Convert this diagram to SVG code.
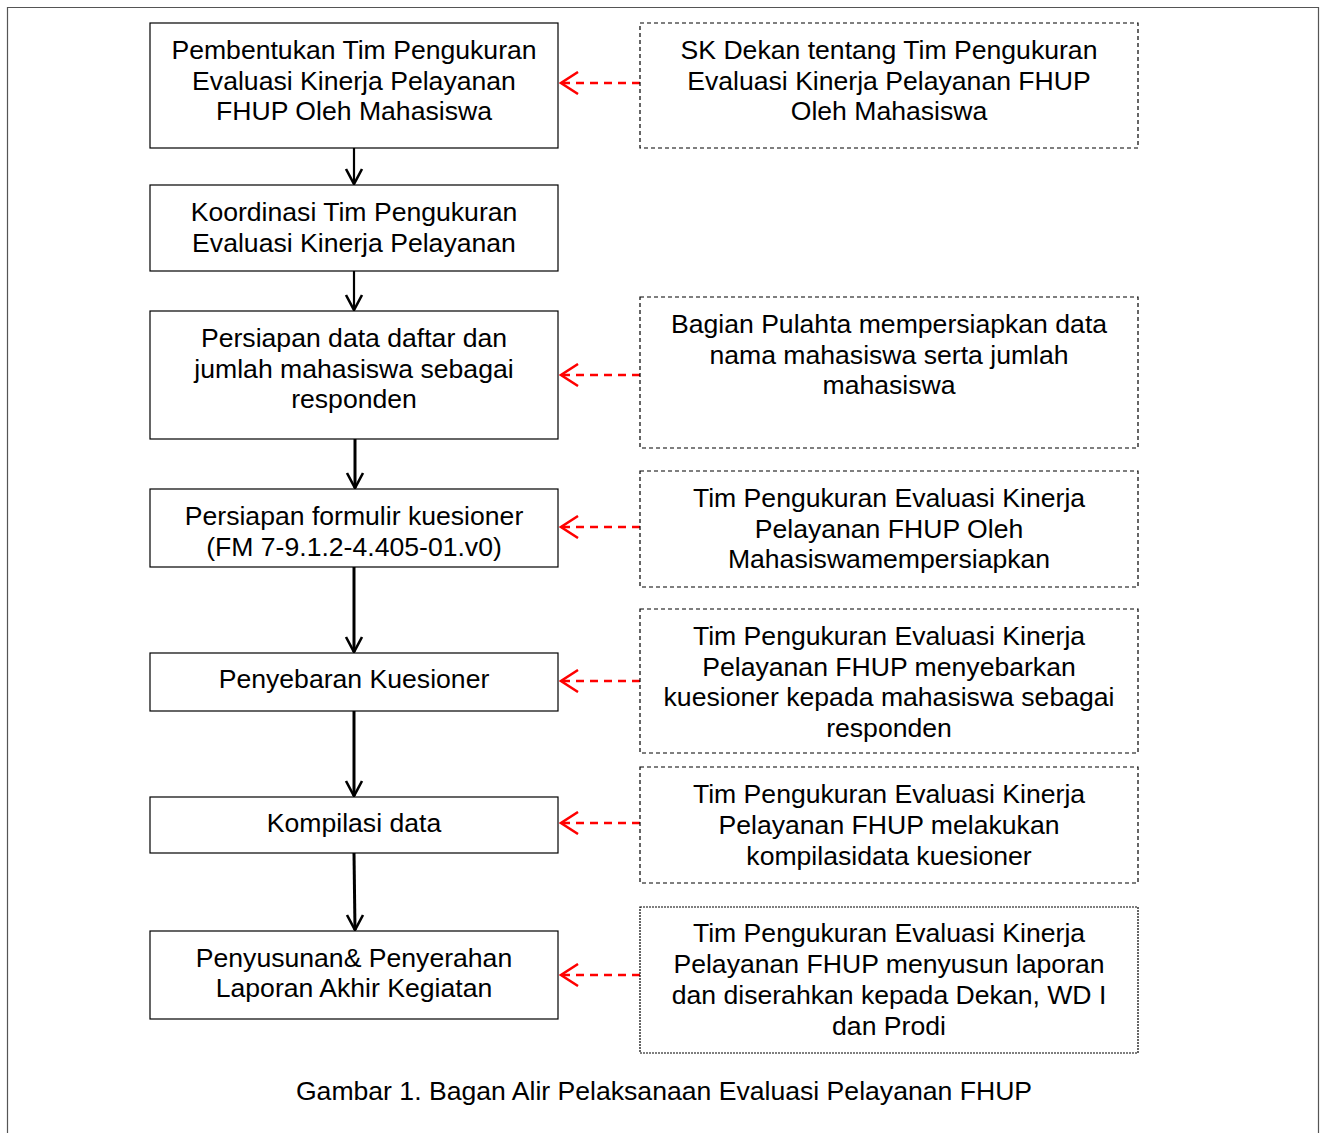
<svg xmlns="http://www.w3.org/2000/svg" width="1323" height="1133" viewBox="0 0 1323 1133">
<defs>
<style>
.box{fill:#fff;stroke:#000;stroke-width:1.2}
.dbox{fill:#fff;stroke:#000;stroke-width:1.2;stroke-dasharray:4 3}
text{font-family:"Liberation Sans",Arial,sans-serif;font-size:26.6px;fill:#000;text-anchor:middle}
.flow{stroke:#000;stroke-width:3;fill:none}
.thin{stroke-width:2.2}
.ref{stroke:#f00;stroke-width:2.5;stroke-dasharray:8 6;fill:none}
</style>
<marker id="ah" markerWidth="20" markerHeight="20" refX="10" refY="18" orient="0" markerUnits="userSpaceOnUse" viewBox="0 0 20 20">
<path d="M2,3 L10,18 L18,3" fill="none" stroke="#000" stroke-width="2.6"/>
</marker>
<marker id="rh" markerWidth="20" markerHeight="24" refX="1" refY="12" orient="0" markerUnits="userSpaceOnUse" viewBox="0 0 20 24">
<path d="M19,1 L2,12 L19,23" fill="none" stroke="#f00" stroke-width="2.5"/>
</marker>
</defs>
<rect x="0" y="0" width="1323" height="1133" fill="#fff"/>
<path d="M7.5,1133 V7.5 H1318.5 V1133" fill="none" stroke="#555" stroke-width="1.2"/>
<g id="connectors">
<line class="flow thin" x1="354" y1="148" x2="354" y2="184" marker-end="url(#ah)"/>
<line class="flow thin" x1="354" y1="271" x2="354" y2="310" marker-end="url(#ah)"/>
<line class="flow" x1="355" y1="439" x2="355" y2="488" marker-end="url(#ah)"/>
<line class="flow" x1="354" y1="567" x2="354" y2="652" marker-end="url(#ah)"/>
<line class="flow" x1="354" y1="711" x2="354" y2="796" marker-end="url(#ah)"/>
<line class="flow" x1="354" y1="853" x2="355" y2="930" marker-end="url(#ah)"/>
<line class="ref" x1="640" y1="83" x2="560" y2="83" marker-end="url(#rh)"/>
<line class="ref" x1="640" y1="375" x2="560" y2="375" marker-end="url(#rh)"/>
<line class="ref" x1="640" y1="527" x2="560" y2="527" marker-end="url(#rh)"/>
<line class="ref" x1="640" y1="681" x2="560" y2="681" marker-end="url(#rh)"/>
<line class="ref" x1="640" y1="823" x2="560" y2="823" marker-end="url(#rh)"/>
<line class="ref" x1="640" y1="975" x2="560" y2="975" marker-end="url(#rh)"/>
</g>
<g id="n1"><rect class="box" x="150" y="23" width="408" height="125"/>
<text x="354" y="59">Pembentukan Tim Pengukuran</text><text x="354" y="90">Evaluasi Kinerja Pelayanan</text><text x="354" y="120">FHUP Oleh Mahasiswa</text></g>
<g id="n2"><rect class="box" x="150" y="185" width="408" height="86"/>
<text x="354" y="221">Koordinasi Tim Pengukuran</text><text x="354" y="252">Evaluasi Kinerja Pelayanan</text></g>
<g id="n3"><rect class="box" x="150" y="311" width="408" height="128"/>
<text x="354" y="347">Persiapan data daftar dan</text><text x="354" y="378">jumlah mahasiswa sebagai</text><text x="354" y="408">responden</text></g>
<g id="n4"><rect class="box" x="150" y="489" width="408" height="78"/>
<text x="354" y="525">Persiapan formulir kuesioner</text><text x="354" y="556">(FM 7-9.1.2-4.405-01.v0)</text></g>
<g id="n5"><rect class="box" x="150" y="653" width="408" height="58"/>
<text x="354" y="688">Penyebaran Kuesioner</text></g>
<g id="n6"><rect class="box" x="150" y="797" width="408" height="56"/>
<text x="354" y="832">Kompilasi data</text></g>
<g id="n7"><rect class="box" x="150" y="931" width="408" height="88"/>
<text x="354" y="967">Penyusunan&amp; Penyerahan</text><text x="354" y="997">Laporan Akhir Kegiatan</text></g>
<g id="r1"><rect class="dbox" x="640" y="23" width="498" height="125"/>
<text x="889" y="59">SK Dekan tentang Tim Pengukuran</text><text x="889" y="90">Evaluasi Kinerja Pelayanan FHUP</text><text x="889" y="120">Oleh Mahasiswa</text></g>
<g id="r2"><rect class="dbox" x="640" y="297" width="498" height="151"/>
<text x="889" y="333">Bagian Pulahta mempersiapkan data</text><text x="889" y="364">nama mahasiswa serta jumlah</text><text x="889" y="394">mahasiswa</text></g>
<g id="r3"><rect class="dbox" x="640" y="471" width="498" height="116"/>
<text x="889" y="507">Tim Pengukuran Evaluasi Kinerja</text><text x="889" y="538">Pelayanan FHUP Oleh</text><text x="889" y="568">Mahasiswamempersiapkan</text></g>
<g id="r4"><rect class="dbox" x="640" y="609" width="498" height="144"/>
<text x="889" y="645">Tim Pengukuran Evaluasi Kinerja</text><text x="889" y="676">Pelayanan FHUP menyebarkan</text><text x="889" y="706">kuesioner kepada mahasiswa sebagai</text><text x="889" y="737">responden</text></g>
<g id="r5"><rect class="dbox" x="640" y="767" width="498" height="116"/>
<text x="889" y="803">Tim Pengukuran Evaluasi Kinerja</text><text x="889" y="834">Pelayanan FHUP melakukan</text><text x="889" y="865">kompilasidata kuesioner</text></g>
<g id="r6"><rect class="dbox" x="640" y="907" width="498" height="146" style="stroke-dasharray:2 1"/>
<text x="889" y="942">Tim Pengukuran Evaluasi Kinerja</text><text x="889" y="973">Pelayanan FHUP menyusun laporan</text><text x="889" y="1004">dan diserahkan kepada Dekan, WD I</text><text x="889" y="1035">dan Prodi</text></g>
<text x="664" y="1100">Gambar 1. Bagan Alir Pelaksanaan Evaluasi Pelayanan FHUP</text>
</svg>
